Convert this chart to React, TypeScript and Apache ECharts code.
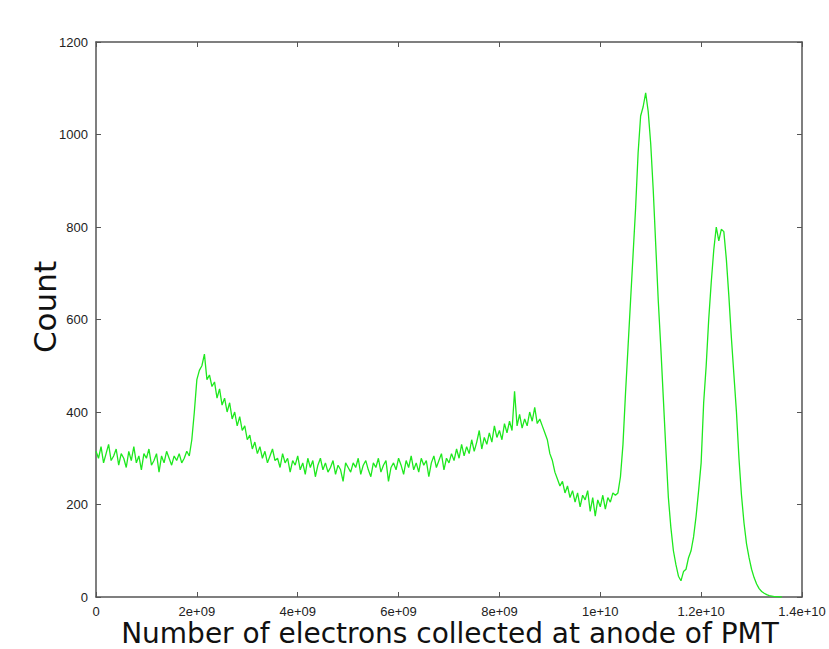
import React, { useEffect, useRef } from "react";
import * as echarts from "echarts";

// bin width in electrons (bins start at 0)
const BIN_STEP = 0.05e9;

// counts per bin (bin i at i * BIN_STEP)
const baselineCounts = [
  315, 300, 325, 290, 310, 330, 295, 305, 320, 285, 310, 300, 280, 315, 295, 325, 290, 305, 275, 310,
  300, 320, 285, 295, 310, 270, 305, 290, 315, 300, 285, 305, 295, 310, 290, 300, 315, 305,
];
const firstBumpCounts = [
  340, 400, 470, 490, 500, 525, 470, 480, 455, 465, 430, 450, 415, 430, 400, 420, 385, 400, 370, 390,
  360, 370, 340, 350, 320, 335, 310,
];
const valleyCounts = [
  325, 300, 315, 290, 305, 320, 295, 300, 280, 310, 290, 300, 270, 295, 285, 305, 275, 290, 265, 300,
  280, 295, 260, 285, 300, 275, 290, 270, 280, 295, 265, 285, 275, 250, 290, 280,
  270, 290, 280, 300, 265, 285, 295, 275, 260, 290, 280, 300, 270, 285, 295, 250, 280, 290, 275, 300,
  285, 265, 295, 280, 305, 275, 290, 270, 300, 285, 295, 260, 290, 305, 280, 295, 310, 275, 300, 290,
];
const secondBumpCounts = [
  310, 295, 320, 300, 330, 305, 325, 310, 340, 315, 335, 360, 320, 345, 330, 355, 335, 370, 345, 360,
  340, 375, 355, 380, 360, 445, 370, 395, 365, 385, 370, 400, 380, 410, 375, 385,
];
const dipCounts = [
  370, 355, 340, 310, 295, 270, 255, 240, 250, 225, 240, 215, 230, 205, 225, 195, 220, 210, 230, 185,
  215, 175, 210, 195, 220, 190, 215, 205, 225,
];
const photopeakCounts = [
  220, 225, 260, 330, 440, 540, 640, 740, 840, 960, 1040, 1060, 1090, 1050, 980, 880, 760, 640, 540, 430,
  320, 215, 150, 100, 70, 45, 35, 55, 60, 85, 100, 130, 175, 230, 290, 420, 500, 600, 680, 750,
  800, 770, 795, 790, 730, 650, 560, 480, 400, 300, 220, 160, 115, 85, 60, 42, 28, 18, 12, 8,
  5, 3, 2, 1, 1, 0, 0,
];

const counts = [
  ...baselineCounts,
  ...firstBumpCounts,
  ...valleyCounts,
  ...secondBumpCounts,
  ...dipCounts,
  ...photopeakCounts,
];

const X_MAX = 1.4e10;
const X_INTERVAL = 2e9;
const Y_MAX = 1200;
const Y_INTERVAL = 200;

const xTitle = "Number of electrons collected at anode of PMT";
const yTitle = "Count";

function fmtX(v: number): string {
  if (v === 0) return "0";
  const e = Math.floor(Math.log10(v) + 1e-9);
  const m = parseFloat((v / Math.pow(10, e)).toPrecision(6));
  const es = e < 10 ? "0" + e : String(e);
  return `${m}e+${es}`;
}

export default function App() {
  const ref = useRef<HTMLDivElement>(null);
  useEffect(() => {
    if (!ref.current) return;
    const chart = echarts.init(ref.current, null, { renderer: "svg" });
    const data = counts.map((c, i) => [i * BIN_STEP, c]);
    const frame = { show: true, onZero: false, lineStyle: { color: "#555", width: 1.5 } };
    const tickIn = { show: true, inside: true, length: 5, lineStyle: { color: "#555", width: 1 } };
    const labelFont = {
      fontFamily: "Liberation Sans, Arial, sans-serif",
      fontSize: 13,
      lineHeight: 13,
      color: "#222",
    };
    chart.setOption({
      animation: false,
      backgroundColor: "#fff",
      grid: {
        left: 96,
        right: 27,
        top: 42,
        bottom: 52,
        containLabel: false,
        outerBoundsMode: "none",
      },
      graphic: [
        {
          type: "text",
          x: 450,
          y: 633,
          style: {
            text: xTitle,
            align: "center",
            verticalAlign: "middle",
            fontFamily: "DejaVu Sans, sans-serif",
            fontSize: 28,
            lineHeight: 26,
            fill: "#111",
          },
        },
        {
          type: "text",
          x: 45,
          y: 307,
          rotation: Math.PI / 2,
          style: {
            text: yTitle,
            align: "center",
            verticalAlign: "middle",
            fontFamily: "DejaVu Sans, sans-serif",
            fontSize: 31,
            fill: "#111",
          },
        },
      ],
      xAxis: [
        {
          type: "value",
          min: 0,
          max: X_MAX,
          interval: X_INTERVAL,
          axisLine: frame,
          axisTick: tickIn,
          splitLine: { show: false },
          axisLabel: { ...labelFont, margin: 8, formatter: fmtX },
        },
        {
          type: "value",
          position: "top",
          min: 0,
          max: X_MAX,
          interval: X_INTERVAL,
          axisLine: frame,
          axisTick: tickIn,
          splitLine: { show: false },
          axisLabel: { show: false },
        },
      ],
      yAxis: [
        {
          type: "value",
          min: 0,
          max: Y_MAX,
          interval: Y_INTERVAL,
          axisLine: frame,
          axisTick: tickIn,
          splitLine: { show: false },
          axisLabel: { ...labelFont, margin: 8, formatter: (v: number) => String(v) },
        },
        {
          type: "value",
          position: "right",
          min: 0,
          max: Y_MAX,
          interval: Y_INTERVAL,
          axisLine: frame,
          axisTick: tickIn,
          splitLine: { show: false },
          axisLabel: { show: false },
        },
      ],
      series: [
        {
          type: "line",
          data,
          showSymbol: false,
          symbol: "none",
          lineStyle: { color: "#1ee81e", width: 1.3 },
          xAxisIndex: 0,
          yAxisIndex: 0,
        },
      ],
    });
    return () => chart.dispose();
  }, []);
  return (
    <div
      ref={ref}
      style={{ position: "fixed", left: 0, top: 0, width: 829, height: 649, background: "#fff" }}
    />
  );
}
